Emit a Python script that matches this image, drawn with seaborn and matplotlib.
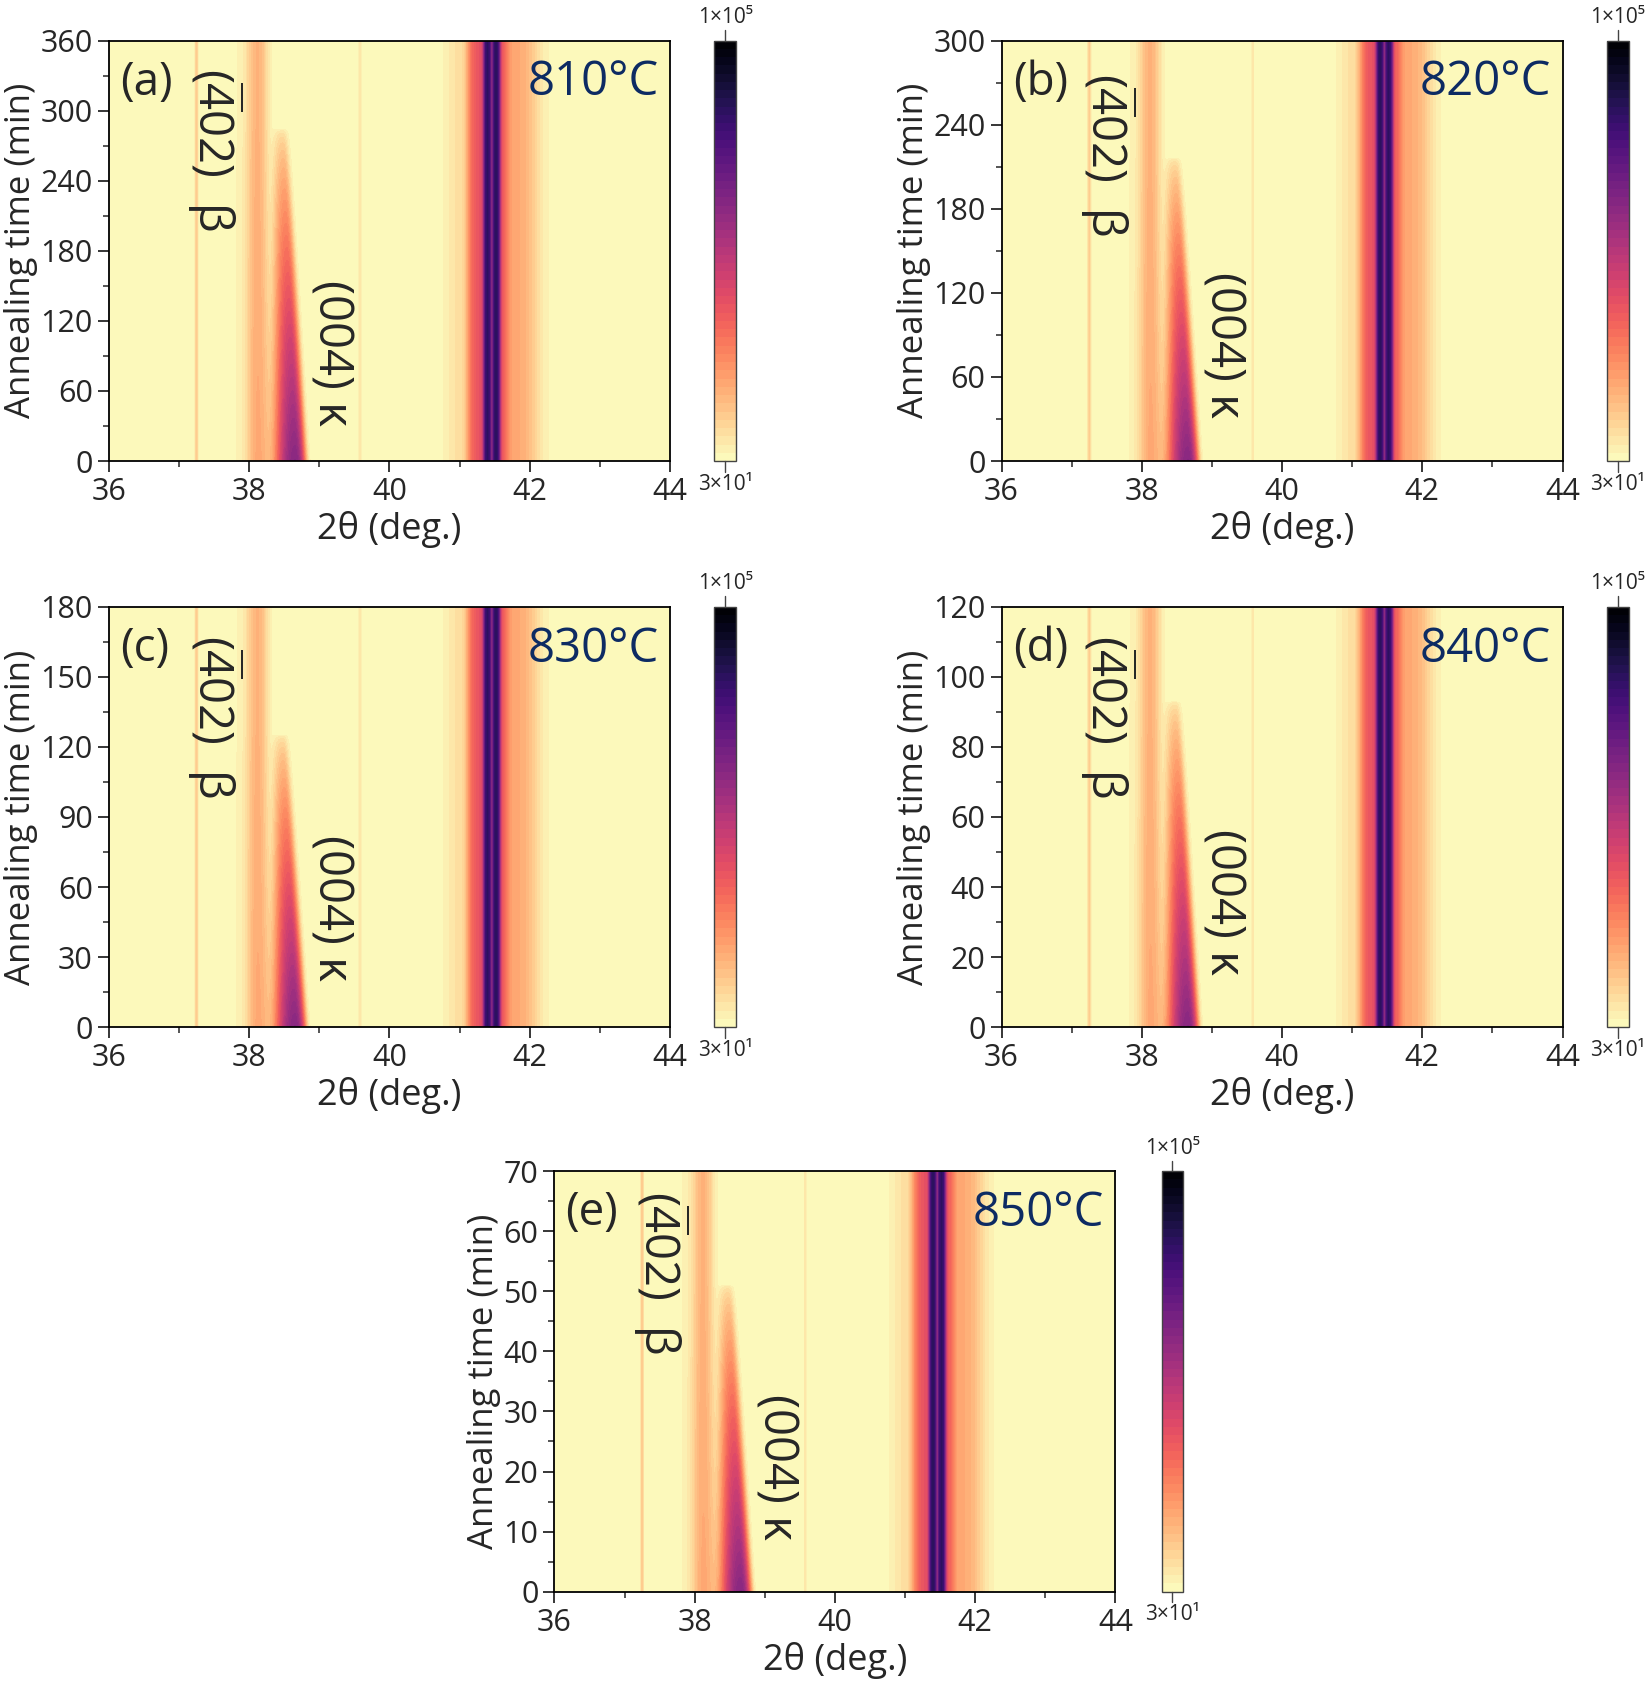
import numpy as np
import matplotlib
matplotlib.use("Agg")
import matplotlib.pyplot as plt
from matplotlib.colors import LogNorm
from matplotlib.ticker import MultipleLocator
import seaborn as sns

# panel settings
panel_tags = ["(a)", "(b)", "(c)", "(d)", "(e)"]
temperatures = ["810°C", "820°C", "830°C", "840°C", "850°C"]
time_max = [360, 300, 180, 120, 70]
time_step = [60, 60, 30, 20, 10]
kappa_end = [284, 216, 125, 93, 51]        # min, where (004) kappa is gone
kappa_label_y = [0.256, 0.277, 0.283, 0.298, 0.296]
beta_label_y = [0.74, 0.73, 0.74, 0.74, 0.76]

# peak parameters (2theta in deg, intensity in counts)
kappa_pos = [38.66, 38.47]                 # start / end position
kappa_amp = 4200
kappa_slope = 1.45                         # decades lost over the lifetime
kappa_sig = [0.11, 0.055]                  # left / right half widths
beta_pos, beta_amp, beta_sig = 38.12, 72, 0.08
sub_pos = [41.40, 41.52]
sub_amp, sub_sig = 26000, 0.024
sub_shoulder = [41.41, 620, 0.25]          # flat-topped red band
sub_tail = [41.82, 95, 0.17]
sub_left = [41.0, 18, 0.12]
weak_pos = [37.25, 39.58]
weak_amp = [35, 12]
weak_sig = [0.012, 0.010]
background = 32

cmin, cmax = 30, 1e5

sns.set_style("ticks")
plt.rcParams["font.family"] = ["Open Sans", "DejaVu Sans"]
plt.rcParams["mathtext.fontset"] = "custom"
plt.rcParams["mathtext.rm"] = "Open Sans"
plt.rcParams["mathtext.it"] = "Open Sans"

cmap = sns.color_palette("magma_r", as_cmap=True)
levels = np.logspace(np.log10(cmin), np.log10(cmax), 52)

two_theta = np.linspace(36, 44, 1601)


def gauss(x, x0, a, s):
    return a * np.exp(-0.5 * ((x - x0) / s) ** 2)


def intensity_map(tmax, tend):
    t = np.linspace(0, tmax, 241)
    X, T = np.meshgrid(two_theta, t)
    frac = np.clip(T / tend, 0, 1)
    I = np.full_like(X, background, dtype=float)
    for p in sub_pos:
        I += gauss(X, p, sub_amp, sub_sig)
    c, a, w = sub_shoulder
    I += a * np.exp(-((X - c) / w) ** 4)
    I += gauss(X, *sub_tail)
    I += gauss(X, *sub_left)
    for p, a, s in zip(weak_pos, weak_amp, weak_sig):
        I += gauss(X, p, a, s)
    I += gauss(X, beta_pos, beta_amp, beta_sig)
    I += gauss(X, 38.0, 8, 0.12)
    # (004) kappa: asymmetric peak drifting to lower angle and fading out
    kc = kappa_pos[0] + (kappa_pos[1] - kappa_pos[0]) * frac
    amp = kappa_amp * 10 ** (-kappa_slope * frac) * (1 - frac) ** 0.5
    sig = np.where(X < kc, kappa_sig[0] * (1 - 0.3 * frac), kappa_sig[1] * (1 - 0.2 * frac))
    I += amp * np.exp(-0.5 * ((X - kc) / sig) ** 2)
    halo = np.exp(-frac / 0.5) * (1 - frac) ** 0.5
    I += 50 * halo * np.exp(-0.5 * ((X - kc + 0.34) / 0.16) ** 2)
    return t, np.clip(I, cmin, cmax * 0.999)


fig = plt.figure(figsize=(16.5, 16.95), dpi=100)
W, H = 0.340, 0.248
ax_pos = [(0.066, 0.728), (0.607, 0.728), (0.066, 0.394), (0.607, 0.394), (0.336, 0.061)]
cb_x = [0.433, 0.974, 0.433, 0.974, 0.704]

for i in range(5):
    x0, y0 = ax_pos[i]
    ax = fig.add_axes([x0, y0, W, H])
    t, I = intensity_map(time_max[i], kappa_end[i])
    cs = ax.contourf(two_theta, t, I, levels=levels, cmap=cmap,
                     norm=LogNorm(vmin=cmin, vmax=cmax))
    ax.set_xlim(36, 44)
    ax.set_ylim(0, time_max[i])
    ax.xaxis.set_major_locator(MultipleLocator(2))
    ax.xaxis.set_minor_locator(MultipleLocator(1))
    ax.yaxis.set_major_locator(MultipleLocator(time_step[i]))
    ax.yaxis.set_minor_locator(MultipleLocator(time_step[i] / 2))
    ax.tick_params(which="major", direction="out", length=8, width=1.3, labelsize=22)
    ax.tick_params(which="minor", direction="out", length=4, width=1.1)
    for sp in ax.spines.values():
        sp.set_linewidth(1.3)
        sp.set_color("black")
    ax.set_xlabel("2θ (deg.)", fontsize=26, labelpad=3)
    ax.set_ylabel("Annealing time (min)", fontsize=25, labelpad=2)

    ax.text(0.02, 0.90, panel_tags[i], transform=ax.transAxes, fontsize=33,
            ha="left", va="center")
    ax.text(0.98, 0.90, temperatures[i], transform=ax.transAxes, fontsize=34,
            ha="right", va="center", color="#0d2b63")
    ax.text(0.19, beta_label_y[i], r"($\overline{4}$02)  β", transform=ax.transAxes,
            fontsize=34, rotation=-90, ha="center", va="center")
    ax.text(0.396, kappa_label_y[i], "(004) κ", transform=ax.transAxes,
            fontsize=34, rotation=-90, ha="center", va="center")

    cax = fig.add_axes([cb_x[i], y0, 0.013, H])
    cb = fig.colorbar(cs, cax=cax)
    cb.set_ticks([])
    cb.ax.minorticks_off()
    cb.outline.set_linewidth(1.0)
    cb.outline.set_edgecolor("#444444")
    cax.plot([0.5, 0.5], [1.0, 1.025], transform=cax.transAxes, color="#444444",
             lw=1.0, clip_on=False)
    cax.plot([0.5, 0.5], [0.0, -0.025], transform=cax.transAxes, color="#444444",
             lw=1.0, clip_on=False)
    cax.text(0.5, 1.03, "1×10⁵", transform=cax.transAxes, ha="center", va="bottom", fontsize=15)
    cax.text(0.5, -0.03, "3×10¹", transform=cax.transAxes, ha="center", va="top", fontsize=15)

fig.savefig("out.png", dpi=100)
